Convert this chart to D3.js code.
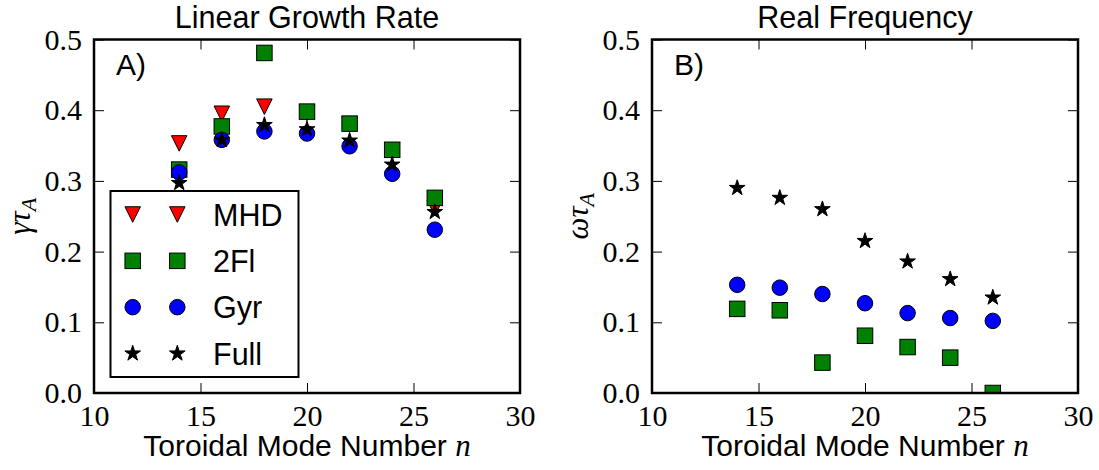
<!DOCTYPE html>
<html><head><meta charset="utf-8">
<script src="https://cdn.jsdelivr.net/npm/d3@7"></script>
<style>body{margin:0;background:#fff}</style>
</head><body><svg id="c" width="1099" height="470"></svg>
<script>
const modeNumbers = [14, 16, 18, 20, 22, 24, 26];
const growthMHD  = [0.353, 0.395, 0.405, 0.396, 0.380, 0.343, 0.262];
const growth2Fl  = [0.316, 0.377, 0.481, 0.398, 0.381, 0.344, 0.276];
const growthGyr  = [0.312, 0.358, 0.370, 0.367, 0.349, 0.310, 0.231];
const growthFull = [0.297, 0.358, 0.379, 0.373, 0.357, 0.323, 0.256];
const freq2Fl  = [0.119, 0.117, 0.043, 0.081, 0.065, 0.050, 0.000];
const freqGyr  = [0.153, 0.149, 0.140, 0.127, 0.113, 0.106, 0.102];
const freqFull = [0.290, 0.276, 0.260, 0.215, 0.186, 0.161, 0.135];
const xTicks = [10, 15, 20, 25, 30];
const yTicks = [0.0, 0.1, 0.2, 0.3, 0.4, 0.5];
const seriesNames = ["MHD", "2Fl", "Gyr", "Full"];
const panelTitles = ["Linear Growth Rate", "Real Frequency"];
const panelTags = ["A)", "B)"];

const svg = d3.select("#c");
svg.append("rect").attr("width", 1099).attr("height", 470).attr("fill", "#fff");

const SANS = "'Liberation Sans', Arial, Helvetica, sans-serif";
const SERIF = "'Liberation Serif', 'Times New Roman', serif";
const MS = 15.5;

const markerStyles = {
  MHD:  {shape: "tri", fill: "#ff0000"},
  "2Fl": {shape: "sq", fill: "#008000"},
  Gyr:  {shape: "circ", fill: "#0000ff"},
  Full: {shape: "star", fill: "#000000"}
};

function starPath(r) {
  const ri = r * 0.381966;
  const pts = [];
  for (let i = 0; i < 10; i++) {
    const a = -Math.PI / 2 + i * Math.PI / 5;
    const rr = i % 2 === 0 ? r : ri;
    pts.push([rr * Math.cos(a), rr * Math.sin(a)]);
  }
  return "M" + pts.map(p => p[0].toFixed(2) + "," + p[1].toFixed(2)).join("L") + "Z";
}
function drawMarker(g, name, cx, cy) {
  const st = markerStyles[name];
  const h = MS / 2;
  let el;
  if (st.shape === "circ") {
    el = g.append("circle").attr("cx", cx).attr("cy", cy).attr("r", h);
  } else if (st.shape === "sq") {
    el = g.append("rect").attr("x", cx - h).attr("y", cy - h).attr("width", MS).attr("height", MS);
  } else if (st.shape === "tri") {
    el = g.append("path").attr("transform", `translate(${cx},${cy})`)
      .attr("d", `M${-h},${-h}L${h},${-h}L0,${h}Z`);
  } else {
    el = g.append("path").attr("transform", `translate(${cx},${cy})`).attr("d", starPath(h + 0.5));
  }
  el.attr("fill", st.fill).attr("stroke", "#000").attr("stroke-width", 1).attr("stroke-linejoin", "miter");
}

function panel(idx, left, right, series, ylabelSym) {
  const top = 39.5, bottom = 393;
  const x = d3.scaleLinear().domain([10, 30]).range([left, right]);
  const y = d3.scaleLinear().domain([0, 0.5]).range([bottom, top]);
  const g = svg.append("g");
  const clipId = "clip" + idx;
  svg.append("clipPath").attr("id", clipId).append("rect")
    .attr("x", left).attr("y", top).attr("width", right - left).attr("height", bottom - top);

  const data = g.append("g").attr("clip-path", `url(#${clipId})`);
  series.forEach(s => {
    modeNumbers.forEach((n, i) => drawMarker(data, s.name, x(n), y(s.values[i])));
  });

  const fmt = d3.format(".1f");
  const ax = (gen, tr) => {
    const a = g.append("g").attr("transform", tr).call(gen);
    a.select(".domain").remove();
    a.selectAll("line").attr("stroke", "#000").attr("stroke-width", 1);
    return a;
  };
  const xb = ax(d3.axisBottom(x).tickValues(xTicks).tickSize(-10).tickPadding(11.5).tickFormat(d3.format("d")), `translate(0,${bottom})`);
  xb.selectAll("text").attr("font-family", SERIF).attr("font-size", 30).attr("fill", "#000");
  ax(d3.axisTop(x).tickValues(xTicks).tickSize(-10).tickFormat(""), `translate(0,${top})`);
  const yl = ax(d3.axisLeft(y).tickValues(yTicks).tickSize(-10).tickPadding(12).tickFormat(fmt), `translate(${left},0)`);
  yl.selectAll("text").attr("font-family", SERIF).attr("font-size", 30).attr("fill", "#000");
  ax(d3.axisRight(y).tickValues(yTicks).tickSize(-10).tickFormat(""), `translate(${right},0)`);
  g.selectAll(".tick text").filter(function(){return this.textContent==="";}).remove();

  g.append("rect").attr("x", left).attr("y", top).attr("width", right - left).attr("height", bottom - top)
    .attr("fill", "none").attr("stroke", "#000").attr("stroke-width", 2.5);

  const cx = (left + right) / 2;
  g.append("text").attr("x", cx).attr("y", 27.5).attr("text-anchor", "middle")
    .attr("font-family", SANS).attr("font-size", 30.5).text(panelTitles[idx]);

  const xl = g.append("text").attr("x", cx).attr("y", 456).attr("text-anchor", "middle")
    .attr("font-family", SANS).attr("font-size", 30);
  xl.append("tspan").text("Toroidal Mode Number ");
  xl.append("tspan").attr("font-family", SERIF).attr("font-style", "italic").attr("font-size", 31).text("n");

  const ylx = left - 73, yly = (top + bottom) / 2;
  const ylab = g.append("text").attr("transform", `translate(${ylx},${yly}) rotate(-90)`)
    .attr("text-anchor", "middle").attr("dy", "0.3em")
    .attr("font-family", SERIF).attr("font-style", "italic").attr("font-size", 31);
  ylab.append("tspan").text(ylabelSym + "τ");
  ylab.append("tspan").attr("font-size", 22).attr("dy", 6).text("A");

  g.append("text").attr("x", left + 22).attr("y", 75).attr("font-family", SANS).attr("font-size", 30)
    .text(panelTags[idx]);
  return {x, y};
}

panel(0, 94, 520, [
  {name: "MHD", values: growthMHD},
  {name: "2Fl", values: growth2Fl},
  {name: "Gyr", values: growthGyr},
  {name: "Full", values: growthFull}
], "γ");

panel(1, 652, 1078, [
  {name: "2Fl", values: freq2Fl},
  {name: "Gyr", values: freqGyr},
  {name: "Full", values: freqFull}
], "ω");

// legend
const lg = svg.append("g");
const lx0 = 110.5, ly0 = 191, lw = 188, lh = 186;
lg.append("rect").attr("x", lx0).attr("y", ly0).attr("width", lw).attr("height", lh)
  .attr("fill", "#fff").attr("stroke", "#000").attr("stroke-width", 2);
const rowY = d3.scalePoint().domain(seriesNames).range([214.5, 353.5]);
seriesNames.forEach(name => {
  const yy = rowY(name);
  drawMarker(lg, name, 132.7, yy);
  drawMarker(lg, name, 177.3, yy);
  lg.append("text").attr("x", 213).attr("y", yy + 11).attr("font-family", SANS).attr("font-size", 30.5).text(name);
});
</script>
</body></html>
